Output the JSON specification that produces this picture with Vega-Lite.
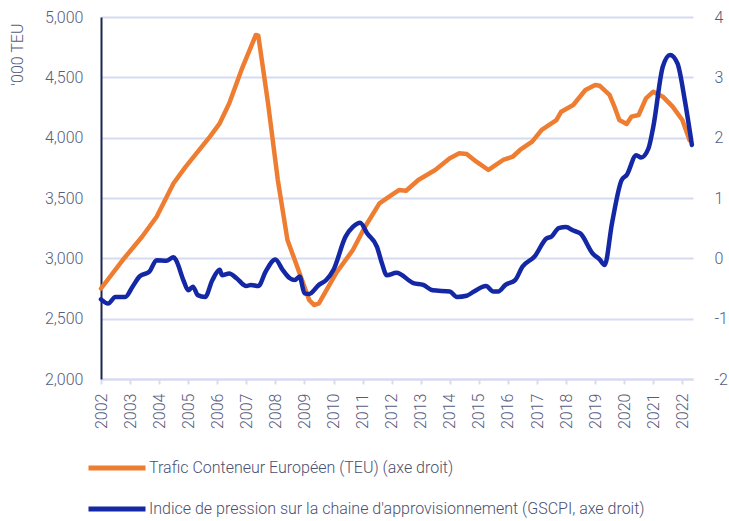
{
  "$schema": "https://vega.github.io/schema/vega-lite/v6.json",
  "width": 592,
  "height": 362,
  "autosize": {"type": "none"},
  "padding": {"left": 101, "top": 17, "right": 36, "bottom": 142},
  "background": "white",
  "datasets": {
    "teu": [
      {"date": "2002-01", "value": 2750},
      {"date": "2002-10", "value": 2986},
      {"date": "2003-06", "value": 3179},
      {"date": "2003-12", "value": 3345},
      {"date": "2004-07", "value": 3622},
      {"date": "2004-12", "value": 3760},
      {"date": "2005-10", "value": 4008},
      {"date": "2006-02", "value": 4119},
      {"date": "2006-06", "value": 4285},
      {"date": "2006-11", "value": 4561},
      {"date": "2007-05", "value": 4851},
      {"date": "2007-06", "value": 4845},
      {"date": "2007-10", "value": 4285},
      {"date": "2008-02", "value": 3649},
      {"date": "2008-06", "value": 3152},
      {"date": "2008-09", "value": 2986},
      {"date": "2009-03", "value": 2655},
      {"date": "2009-05", "value": 2613},
      {"date": "2009-07", "value": 2627},
      {"date": "2010-02", "value": 2876},
      {"date": "2010-09", "value": 3069},
      {"date": "2011-02", "value": 3262},
      {"date": "2011-08", "value": 3456},
      {"date": "2011-12", "value": 3511},
      {"date": "2012-04", "value": 3566},
      {"date": "2012-07", "value": 3560},
      {"date": "2012-12", "value": 3649},
      {"date": "2013-07", "value": 3732},
      {"date": "2014-01", "value": 3829},
      {"date": "2014-05", "value": 3870},
      {"date": "2014-08", "value": 3865},
      {"date": "2014-12", "value": 3801},
      {"date": "2015-05", "value": 3732},
      {"date": "2015-07", "value": 3760},
      {"date": "2015-11", "value": 3815},
      {"date": "2016-03", "value": 3842},
      {"date": "2016-06", "value": 3898},
      {"date": "2016-11", "value": 3967},
      {"date": "2017-03", "value": 4064},
      {"date": "2017-09", "value": 4146},
      {"date": "2017-11", "value": 4215},
      {"date": "2018-04", "value": 4271},
      {"date": "2018-09", "value": 4395},
      {"date": "2019-01", "value": 4437},
      {"date": "2019-03", "value": 4430},
      {"date": "2019-07", "value": 4354},
      {"date": "2019-09", "value": 4257},
      {"date": "2019-11", "value": 4146},
      {"date": "2020-02", "value": 4113},
      {"date": "2020-04", "value": 4174},
      {"date": "2020-07", "value": 4188},
      {"date": "2020-10", "value": 4326},
      {"date": "2021-01", "value": 4381},
      {"date": "2021-05", "value": 4340},
      {"date": "2021-09", "value": 4257},
      {"date": "2022-01", "value": 4146},
      {"date": "2022-04", "value": 3980}
    ],
    "gscpi": [
      {"date": "2002-01", "value": -0.68},
      {"date": "2002-04", "value": -0.75},
      {"date": "2002-07", "value": -0.64},
      {"date": "2002-11", "value": -0.64},
      {"date": "2003-02", "value": -0.47},
      {"date": "2003-05", "value": -0.30},
      {"date": "2003-09", "value": -0.22},
      {"date": "2003-12", "value": -0.03},
      {"date": "2004-04", "value": -0.04},
      {"date": "2004-07", "value": 0.02},
      {"date": "2004-08", "value": -0.03},
      {"date": "2004-11", "value": -0.36},
      {"date": "2005-01", "value": -0.53},
      {"date": "2005-03", "value": -0.47},
      {"date": "2005-05", "value": -0.61},
      {"date": "2005-08", "value": -0.64},
      {"date": "2005-11", "value": -0.36},
      {"date": "2006-02", "value": -0.19},
      {"date": "2006-03", "value": -0.28},
      {"date": "2006-06", "value": -0.25},
      {"date": "2006-09", "value": -0.33},
      {"date": "2007-01", "value": -0.46},
      {"date": "2007-03", "value": -0.44},
      {"date": "2007-06", "value": -0.46},
      {"date": "2007-09", "value": -0.22},
      {"date": "2008-01", "value": -0.02},
      {"date": "2008-04", "value": -0.19},
      {"date": "2008-07", "value": -0.33},
      {"date": "2008-09", "value": -0.36},
      {"date": "2008-11", "value": -0.30},
      {"date": "2009-01", "value": -0.58},
      {"date": "2009-03", "value": -0.59},
      {"date": "2009-07", "value": -0.44},
      {"date": "2009-10", "value": -0.36},
      {"date": "2010-01", "value": -0.19},
      {"date": "2010-06", "value": 0.36},
      {"date": "2010-09", "value": 0.52},
      {"date": "2010-12", "value": 0.59},
      {"date": "2011-03", "value": 0.41},
      {"date": "2011-07", "value": 0.19},
      {"date": "2011-09", "value": -0.08},
      {"date": "2011-11", "value": -0.28},
      {"date": "2012-03", "value": -0.24},
      {"date": "2012-10", "value": -0.41},
      {"date": "2013-02", "value": -0.44},
      {"date": "2013-06", "value": -0.53},
      {"date": "2014-01", "value": -0.55},
      {"date": "2014-04", "value": -0.64},
      {"date": "2014-08", "value": -0.62},
      {"date": "2014-11", "value": -0.55},
      {"date": "2015-04", "value": -0.46},
      {"date": "2015-07", "value": -0.55},
      {"date": "2015-09", "value": -0.55},
      {"date": "2015-12", "value": -0.44},
      {"date": "2016-04", "value": -0.36},
      {"date": "2016-07", "value": -0.14},
      {"date": "2016-12", "value": 0.03},
      {"date": "2017-05", "value": 0.33},
      {"date": "2017-07", "value": 0.36},
      {"date": "2017-10", "value": 0.50},
      {"date": "2018-01", "value": 0.52},
      {"date": "2018-04", "value": 0.46},
      {"date": "2018-07", "value": 0.41},
      {"date": "2018-12", "value": 0.08},
      {"date": "2019-03", "value": -0.02},
      {"date": "2019-05", "value": -0.11},
      {"date": "2019-08", "value": 0.58},
      {"date": "2019-12", "value": 1.30},
      {"date": "2020-02", "value": 1.38},
      {"date": "2020-06", "value": 1.71},
      {"date": "2020-08", "value": 1.67},
      {"date": "2020-11", "value": 1.82},
      {"date": "2021-01", "value": 2.18},
      {"date": "2021-05", "value": 3.18},
      {"date": "2021-08", "value": 3.37},
      {"date": "2021-11", "value": 3.23},
      {"date": "2022-02", "value": 2.62},
      {"date": "2022-05", "value": 1.88}
    ]
  },
  "config": {
    "view": {"stroke": null},
    "font": "Roboto",
    "axis": {
      "labelFont": "Roboto",
      "labelFontWeight": 300,
      "labelFontSize": 16,
      "labelColor": "#555c7d",
      "titleFont": "Roboto",
      "titleFontWeight": 300,
      "titleFontSize": 16,
      "titleColor": "#555c7d"
    },
    "legend": {
      "labelFont": "Roboto",
      "labelFontWeight": 300,
      "labelFontSize": 16,
      "labelColor": "#4a5070"
    }
  },
  "encoding": {
    "x": {
      "field": "date",
      "type": "temporal",
      "scale": {"domain": [{"year": 2002, "month": 1, "date": 1}, {"year": 2022, "month": 5, "date": 15}]},
      "axis": {
        "title": null,
        "format": "%Y",
        "tickCount": {"interval": "year", "step": 1},
        "labelAngle": 270,
        "labelAlign": "right",
        "labelBaseline": "middle",
        "labelPadding": 9,
        "labelOverlap": false,
        "labelFlush": false,
        "grid": false,
        "domainColor": "#d6dcef",
        "domainWidth": 2,
        "tickColor": "#d6dcef",
        "tickWidth": 2,
        "tickSize": 5
      }
    }
  },
  "layer": [
    {
      "data": {"name": "teu", "format": {"parse": {"date": "date:'%Y-%m'"}}},
      "mark": {"type": "line", "strokeWidth": 4.5, "strokeCap": "round", "strokeJoin": "round"},
      "encoding": {
        "y": {
          "field": "value",
          "type": "quantitative",
          "scale": {"domain": [2000, 5000], "nice": false, "zero": false},
          "axis": {
            "orient": "left",
            "title": "'000 TEU",
            "titleAngle": 270,
            "titleX": -84,
            "titleY": 6,
            "titleAlign": "right",
            "titleBaseline": "middle",
            "values": [2000, 2500, 3000, 3500, 4000, 4500, 5000],
            "format": ",.0f",
            "ticks": false,
            "labelPadding": 18,
            "domain": true,
            "domainColor": "#1c2650",
            "domainWidth": 2,
            "grid": true,
            "gridColor": "#d6dcef",
            "gridWidth": 2
          }
        },
        "color": {
          "datum": "Trafic Conteneur Européen (TEU) (axe droit)",
          "scale": {
            "domain": ["Trafic Conteneur Européen (TEU) (axe droit)", "Indice de pression sur la chaine d'approvisionnement (GSCPI, axe droit)"],
            "range": ["#ee7d31", "#1428a6"]
          },
          "legend": {
            "title": null,
            "orient": "none",
            "legendX": -15,
            "legendY": 420,
            "direction": "vertical",
            "padding": 0,
            "symbolType": "stroke",
            "symbolSize": 3249,
            "symbolStrokeWidth": 5,
            "labelOffset": 1,
            "labelLimit": 700,
            "rowPadding": 0
          }
        }
      }
    },
    {
      "data": {"name": "gscpi", "format": {"parse": {"date": "date:'%Y-%m'"}}},
      "mark": {"type": "line", "strokeWidth": 4.5, "strokeCap": "round", "strokeJoin": "round", "interpolate": "monotone"},
      "encoding": {
        "y": {
          "field": "value",
          "type": "quantitative",
          "scale": {"domain": [-2, 4], "nice": false, "zero": false},
          "axis": {
            "orient": "right",
            "title": null,
            "values": [-2, -1, 0, 1, 2, 3, 4],
            "labelExpr": "'' + datum.value",
            "ticks": false,
            "domain": false,
            "grid": false,
            "labelPadding": 21
          }
        },
        "color": {"datum": "Indice de pression sur la chaine d'approvisionnement (GSCPI, axe droit)"}
      }
    }
  ],
  "resolve": {"scale": {"y": "independent"}}
}
